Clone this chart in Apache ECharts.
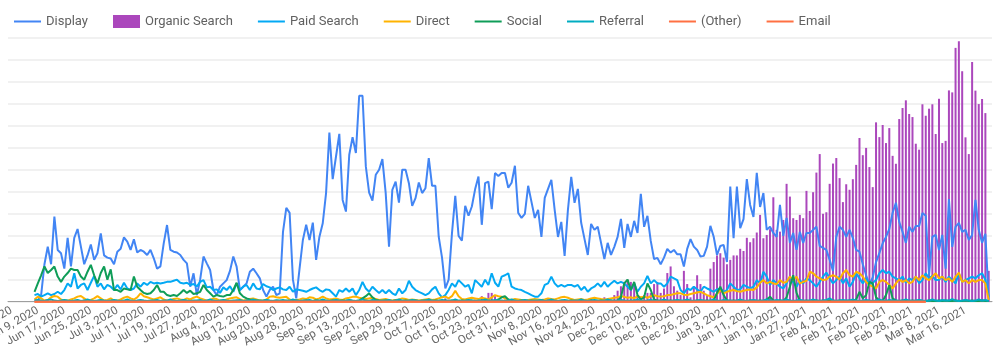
<!DOCTYPE html>
<html>
<head>
<meta charset="utf-8">
<script src="https://cdn.jsdelivr.net/npm/echarts@6/dist/echarts.min.js"></script>
<style>
html,body{margin:0;padding:0;background:#fff;}
#chart{width:1000px;height:352px;}
</style>
</head>
<body>
<div id="chart"></div>
<script>
// Daily categories: May 31, 2020 .. Mar 24, 2021 (298 days)
const startDate = Date.UTC(2020, 4, 31);
const dayCount = 298;
const monthNames = ['Jan','Feb','Mar','Apr','May','Jun','Jul','Aug','Sep','Oct','Nov','Dec'];
const categories = [];
for (let i = 0; i < dayCount; i++) {
  const d = new Date(startDate + i * 86400000);
  categories.push(monthNames[d.getUTCMonth()] + ' ' + d.getUTCDate() + ', ' + d.getUTCFullYear());
}
const labelEvery = 8;      // a tick label every 8 days
const labelOffset = 1;     // first labelled day: Jun 1, 2020
const lastLabel = 'Mar 16, 2021';

const seriesNames = ['Display','Organic Search','Paid Search','Direct','Social','Referral','(Other)','Email'];

const display = [
null,null,null,null,null,null,null,null,0.5,0.5,
3,17,25,17,38.6,23.5,22,15,29,16,
29,33,25,17,21,26,19,22,31,21,
20,19.6,17,22.7,24,29.2,27.3,23.5,28.3,22.3,
23.5,22.7,21.2,23.5,19.7,15,16,26.5,34.8,23.5,
22.7,22.3,21.2,19,17.4,6.8,12.9,3,10,20.5,
17.4,14.4,5.3,3,6.8,8.3,9.8,14,20.5,15.9,
5.3,6.8,8.3,13.6,15,12.9,10.6,5.3,2.3,5.3,
6.8,3,3.8,31.7,42.6,40.3,10,1.5,15,28,
34.9,28,35.9,19,29.5,35.6,49.3,76.8,55.6,65.9,
76.2,46.2,40.9,66.7,74.7,67.5,93.5,93.5,61.4,49.5,
45.9,57.6,59.9,64.7,49.3,25,50.8,54.5,45,59.9,
59.9,53.8,43.5,47,54.1,49.3,51.5,65.2,52.6,52.6,
29.5,20,6,10,31,48,29.9,27.7,43.5,39,
43.2,51.1,56.8,34.9,53.8,54.5,42,58.4,57.1,58.4,
58.4,51.7,54,61.7,40.3,38,39.9,52.6,45.3,38,
41.7,29.4,47.1,51.2,55.3,41.7,29.4,36.2,20.8,41.7,
56.7,44.9,51.2,35.8,28.5,21.2,35.3,32.6,34,26.7,
19.4,26.7,21.2,24.9,29.4,37.6,24.4,35.3,29.4,36.7,
31.2,49,34,39,27.6,19.4,19.9,17,20,24,
22.3,23.5,21.5,21.5,16,24,28.4,25,23.5,20.5,
20.8,25,34.4,29.5,21.2,25.3,25.8,18,52.3,28.8,
52.3,33.4,37.5,55.6,43.9,38.5,58.5,43,49.3,32.6,
34,31.2,29.4,43.9,29.9,38,26.7,31.2,23.5,31.7,
26.7,31.2,31.2,32.6,34,25.3,24.4,23.5,19,14,
29.4,34,32.6,29.4,32.6,29,23.5,22.7,17,12,
8,11,18,22,26.5,29.4,33,40.3,44.9,36.2,
31.7,26.7,34,31.7,34.4,34.4,40.3,39,12,29.4,
30.3,23.5,30.3,15,46.6,24.9,34,35.8,31.7,32.6,
28,30.3,46.2,32.6,26.7,30.8,1,null
];

const organicSearch = [
null,null,null,null,null,null,null,null,0,0,
0,0,0,0,0,0,0,0,0,0,
0,0,0,1,0,0,0,0,0,0,
0,0,0,0.8,0,0,1,0.8,0,0,
0,0,0,0,0,0,0,0,0,0,
0,0,1,0,0,0,0,0,0,0,
0,0,0,0,0,0,0,0,0,1,
0,0,0,0,0,0,0,0,0,0,
0.8,0,0,0,0,1,0,0,0,0,
0,0,0,0,0,0,0,0,0,0.8,
0,0,0,0,0,0,0,0,0,0,
1,0,0,0,0,0,0,0.8,0,0,
0,0,0,0,0,1,0,0,0,0,
0,0,1.5,1,0,0,0,0,0,0,
0,1,0,2.5,0,4,4,2.5,0,0,
1,0,0,0,0,0,1,0,0,0,
0,0,0,1.5,0,0,0,0,0,0,
1,0,0,0,0,0,1.5,0,0,0,
2,0,0,3,5,7,9,10,9,8,
3,2,3,4,4,8,9,4,6,13,
16,7,5,3,14,8,2,7,12,8,
5,3,15,18,21,22,20,17,19,21,
21,24,23,29,27,28.8,31.4,39.4,28.8,30.3,
32.9,47.4,32.6,31.8,37.1,53.5,47.7,37.9,37.1,39.4,
37.9,50.3,41.2,49.7,58.6,67,39.9,40.6,53.5,62.7,
65.2,56.1,45.2,53.3,50.8,55.6,62.1,74.3,66.5,69.8,
61.1,52,81.4,74.7,80.2,72,78.8,66.2,62.6,82.9,
87.9,91.4,85.2,83.8,71.7,69,89.6,84.4,87.6,89.6,
76.1,92.1,72,73,95.9,95,115.2,118.2,104.6,74.6,
67,108.8,95.8,89.7,92,85.6,14,null
];

const paidSearch = [
null,null,null,null,null,null,null,null,3,3.5,
2.3,3,3.8,3,3.5,4.5,3.5,5.3,8.3,6.8,
12.9,6,7.6,8.3,5.3,8.6,11.7,6.8,8.3,5.6,
7.6,6.8,5.3,7.6,5.6,8.6,6,5.3,6,8.3,
6.8,8.6,7.6,9,8.3,8.6,8.3,8.6,9,9,
9.5,10,8.6,8.3,8.6,7.6,8,7,9,9.8,
6.5,6.8,5.3,5.6,4,6.5,5.3,7,4.5,8.3,
5.3,6.8,7.6,5.3,8.3,6,5.6,8,7,6.5,
5.3,6,6.5,5.6,5.3,6.8,4.5,5.6,5.3,5,
4.5,5.3,6,6.5,5.3,4.5,5.6,5.3,3.8,2.3,
5.3,4.5,6,4.5,6,3,5.3,9,6,4.5,
6.8,5.3,4,5.3,3.8,5.3,3.8,3,6,3.8,
5.3,9.5,6.8,5.3,4.5,3.8,3,3.8,5.6,6.8,
3.8,2,3,5.3,8.3,6.8,9.8,8.3,6.8,7.6,
3.8,9.8,8.3,6.8,10,7.6,12.9,8.6,6.8,11.4,
12,12.9,6.8,6,5.6,5.3,4.5,3.8,3,2.3,
2.3,3.8,7.6,8.3,11.4,8.3,6.8,7.6,6.8,7.6,
7.6,6.8,7.6,5.3,6.8,4.5,6,6.8,8.3,6.8,
9,6.8,8.3,9.5,8.3,9,8.3,6.8,5.3,8.3,
4.5,6.8,8.3,11.7,8.3,9.8,8.3,8.3,6.8,8.3,
11.4,10.6,9.8,5.3,3.8,6,5.3,6.8,5.6,4.5,
6.8,6,5.3,4.5,5.6,6,4.5,5.3,8.3,6.8,
5.3,5.6,7.6,6.8,6,6.8,9.8,8.3,13.6,11.4,
7.6,9.8,8.3,6.8,6,8.3,11.4,9,6.8,9.8,
8.3,10.6,9.8,8.3,6.8,9,11.4,13.2,10.6,8.3,
9.8,11.4,8.3,10.6,6.8,9,12.9,10.6,8.3,10.6,
7.6,8.6,9.8,12.9,14.4,12.9,13.6,11.4,10.6,9.8,
11.4,8.6,10.6,9.8,11.4,8.3,9.8,12.9,10.6,11.7,
9.8,10,11.4,9,11.4,9.8,8.3,12.9,9,9.8,
10.6,11.4,10.6,12,12.9,10,2.3,null
];

const direct = [
null,null,null,null,null,null,null,null,1,2.3,
1.5,0.5,0.8,2,2.6,2.3,1,0.5,0.5,1,
1.5,2.3,2.6,1.5,0.5,0.8,1.5,2.5,1.5,0.5,
0.8,1.5,0.5,0.5,1,1.8,2.3,1.5,1,2,
3.8,2.5,2,1.5,1,1.5,2,1,0.5,0.8,
1.2,1.5,1,0.8,1.5,1,1.8,2.3,1.5,1,
0.5,0.8,1.5,1.2,0.5,0.5,1,1.5,1.8,2,
1.2,0.5,0.8,1.2,1.5,1,0.5,0.5,1,2.3,
2.5,2,1.8,2,2.2,1,0.5,0.8,1,1.5,
1.2,2,1.8,1,1.5,2.3,1.5,1,1.2,1.5,
1,0.8,1.5,1.8,2.2,2.3,1.8,1.5,1.2,1.5,
1.8,1.2,0.8,1,1.2,0.8,0.5,0.8,1,1.5,
1.2,0.8,1,0.8,0.5,0.8,1,1.2,0.8,1,
1.5,2,2.3,1.5,2.5,5,2.5,1.2,1,1.5,
1.8,1.5,1.2,1.8,1.5,1,2,3,2.5,2.3,
1.5,1,0.8,1.2,1,0.8,0.5,0.8,1,1.2,
1,0.8,1,1.5,1.2,1,1.5,2,2.2,1.8,
1.2,0.8,1,1.2,0.8,1,1.5,1.8,1.5,1.2,
1,1.2,1.5,1.8,2,2.5,2.2,1.8,2,1.5,
2.5,2,2.3,1.8,2.5,3,2.5,2.3,2.5,3,
3,3.5,3.8,3.8,3.2,3,3.5,3.8,4.2,4.5,
3.8,3,2.5,2,3.5,5.3,3.8,4.5,5,5.3,
4.8,4.5,5,5.3,5.5,5.3,6.5,8.6,9.8,8.3,
9,8.3,8,9.8,8.6,9,11.4,9.8,11.4,8.3,
9,9.5,13.6,12.9,11.4,10.6,9.8,10.1,11.4,12,
11.4,10.1,12.9,14.4,12,11.4,13.6,12.9,11.4,9,
7.6,6.8,6,9,9.8,9,7.6,6,8.3,10.1,
9,9.8,8.3,9,11.4,9.8,12,10.6,9.8,11.4,
12.9,10.6,11.4,9.8,10.6,9,11.4,13.2,9,9.8,
8.3,9.8,9,9.8,9.8,8.3,0.8,null
];

const social = [
null,null,null,null,null,null,null,null,4.5,8.3,
12,16,13,14.4,16,11.4,9,11.4,13,15,
14.4,14.4,11.4,10,13.6,16.7,12,8.3,13,16,
10,14.7,5.3,5.3,4.5,6,5.6,5.3,11.4,6.8,
5.3,4,3.5,3.8,5.3,7.6,4.5,4.5,3,2.6,
3,2.6,3.8,5.3,4,5,3.5,3.8,4.5,7.6,
5.3,3.8,2.3,3,2.6,2.3,3,3,5.3,8.6,
3.8,2.3,1.5,1,0.8,0.5,0.5,0.3,0.5,0.3,
0.3,0.5,0.3,0.3,0.5,0.3,0.3,0.5,0.3,0.3,
0.5,0.3,0.3,0.5,0.3,0.5,0.3,0.3,0.5,0.3,
0.3,0.5,0.3,0.5,0.3,0.3,0.5,1.5,2.5,3.8,
2,0.8,0.5,0.3,0.5,0.3,0.3,0.5,0.3,0.3,
0.5,0.3,0.3,0.5,0.3,0.3,0.5,0.3,0.3,0.5,
0.3,0.3,0.5,0.3,0.5,0.3,0.3,0.5,0.3,0.3,
0.5,0.3,0.3,0.5,0.3,0.3,0.5,0.3,1,2,
2.5,1,0.5,0.3,0.3,0.5,0.3,0.3,0.5,0.3,
0.3,0.5,0.3,0.3,0.5,0.3,0.3,0.5,0.3,0.3,
0.5,0.3,0.3,0.5,0.3,0.3,0.5,0.3,0.3,0.5,
0.3,0.3,0.5,0.3,0.5,2,8.3,10,5.3,9,
3,1,2,8.3,5.3,1,0.5,0.3,0.5,0.3,
0.5,0.3,0.5,0.3,0.3,0.5,0.3,0.3,0.5,0.3,
0.3,0.5,0.3,0.5,4,6.8,3,0.5,0.3,0.5,
0.3,0.5,0.3,0.3,0.5,0.3,0.3,0.5,0.3,1,
2.3,0.5,0.3,0.5,0.3,2,6.8,12,4,0.5,
0.3,0.5,0.3,0.3,0.5,0.3,0.5,0.3,0.3,0.5,
0.3,0.5,0.3,0.3,0.5,0.3,1,4.5,1.5,3,
9,8.3,2,0.5,0.3,3,7.6,1.5,0.5,0.3,
0.5,0.3,0.3,0.5,0.3,0.5,0.3,0.3,0.5,0.3,
0.3,0.5,0.3,0.5,0.3,0.3,0.5,0.3,0.3,0.5,
0.3,0.5,0.3,0.3,0.5,0.3,0.3,null
];

const referral = [
null,null,null,null,null,null,null,null,0.5,0.8,
0.5,0.3,0.8,1,0.5,0.3,0.5,0.8,0.5,0.3,
0.5,0.8,0.3,0.5,1,0.5,0.3,0.5,0.8,0.5,
0.3,0.5,0.8,0.5,0.3,0.5,1,0.5,0.3,0.5,
0.8,0.5,0.3,0.5,0.5,0.8,0.3,0.5,0.5,1,
0.5,0.3,0.5,0.8,0.5,0.3,0.5,0.5,0.8,0.3,
0.5,1,0.5,0.3,0.5,0.8,0.5,0.3,0.5,0.5,
0.8,0.3,0.5,0.5,1,0.5,0.3,0.5,0.8,0.5,
0.3,0.5,0.5,0.8,0.3,0.5,1,0.5,0.3,0.5,
0.5,0.8,0.3,0.5,0.5,1,0.5,0.3,0.5,0.8,
0.5,0.3,0.5,0.8,0.5,0.3,0.5,1,0.5,0.3,
0.8,0.5,0.3,0.5,0.5,0.8,0.3,0.5,1,0.5,
0.3,0.5,0.8,0.5,0.3,0.5,0.5,1,0.5,0.3,
0.5,0.8,0.5,0.3,0.5,1,0.5,0.3,0.5,0.8,
0.5,0.3,0.5,0.5,1,0.5,0.3,0.8,0.5,0.5,
0.3,0.5,1,0.5,0.3,0.5,0.8,0.5,0.3,0.5,
0.5,0.8,0.3,0.5,1,0.5,0.3,0.5,0.8,0.5,
0.3,0.5,0.5,1,0.5,0.3,0.5,0.8,0.5,0.3,
0.5,1,0.5,0.3,0.5,0.8,0.5,0.3,0.5,0.5,
1,0.5,0.3,0.5,0.8,0.5,0.3,0.5,1,0.5,
0.3,0.5,0.8,0.5,0.5,1,0.5,0.3,0.5,0.8,
0.5,0.3,0.5,1,0.5,0.3,0.8,0.5,0.5,0.3,
0.5,1,0.5,0.3,0.5,0.8,0.5,0.3,0.5,1,
0.5,0.3,0.8,0.5,0.5,1,0.5,0.3,0.5,0.8,
0.5,0.3,0.5,1,0.5,0.3,0.5,0.8,1.5,0.5,
0.3,0.5,0.8,0.5,0.5,1,0.5,0.3,0.5,0.8,
0.5,0.3,0.5,1,0.5,0.3,0.8,0.5,0.5,0.3,
0.5,1,0.5,0.3,0.5,0.8,0.5,0.3,0.5,1,
0.5,0.3,0.8,0.5,0.5,1.2,0.5,0.3,0.5,0.8,
0.5,0.3,0.5,1,0.5,0.8,0.3,null
];

const other = [
null,null,null,null,null,null,null,null,0,0,
0,0,0,0,0,0,0,0,0,0, 0,0,0,0,0,0,0,0,0,0, 0,0,0,0,0,0,0,0,0,0,
0,0,0,0,0,0,0,0,0,0, 0,0,0,0,0,0,0,0,0,0, 0,0,0,0,0,0,0,0,0,0,
0,0,0,0,0,0,0,0,0,0, 0,0,0,0,0,0,0,0,0,0, 0,0,0,0,0,0,0,0,0,0,
0,0,0,0,0,0,0,0,0,0, 0,0,0,0,0,0,0,0,0,0, 0,0,0,0,0,0,0,0,0,0,
0,0,0,0,0,0,0,0,0,0, 0,0,0,0,0,0,0,0,0,0, 0,0,0,0,0,0,0,0,0,0,
0,0,0,0,0,0,0,0,0,0, 0,0,0,0,0,0,0,0,0,0, 0,0,0,0,0,0,0,0,0,0,
0,0,0,0,0,0,0,0,0,0, 0,0,0,0,0,0,0,0,0,0, 0,0,0,0,0,0,0,0,0,0,
0,0,0,0,0,0,0,0,0,0, 0,0,0,0,0,0,0,0,0,0, 0,0,0,0,0,0,0,0,0,0,
0,0,0,0,0,0,0,0,0,0, 0,0,0,0,0,0,0,0,0,0,
0,0,0,0,0,0,0,0
];

const email = [
null,null,null,null,null,null,null,null,0,0,
0,0,0,0,0,0,0,0,0,0, 0,0,0,0,0,0,0,0,0,0, 0,0,0,0,0,0,0,0,0,0,
0,0,0,0,0,0,0,0,0,0, 0,0,0,0,0,0,0,0,0,0, 0,0,0,0,0,0,0,0,0,0,
0,0,0,0,0,0,0,0,0,0, 0,0,0,0,0,0,0,0,0,0, 0,0,0,0,0,0,0,0,0,0,
0,0,0,0,0,0,0,0,0,0, 0,0,0,0,0,0,0,0,0,0, 0,0,0,0,0,0,0,0,0,0,
0,0,0,0,0,0,0,0,0,0, 0,0,0,0,0,0,0,0,0,0, 0,0,0,0,0,0,0,0,0,0,
0,0,0,0,0,0,0,0,0,0, 0,0,0,0,0,0,0,0,0,0, 0,0,0,0,0,0,0,0,0,0,
0,0,0,0,0,0,0,0,0,0, 0,0,0,0,0,0,0,0,0,0, 0,0,0,0,0,0,0,0,0,0,
0,0,0,0,0,0,0,0,0,0, 0,0,0,0,0,0,0,0,0,0, 0,0,0,0,0,0,0,0,0,0,
0,0,0,0,0,0,0,0,0,0, 0,0,0,0,0,0,0,0,0,0,
0,0,0,0,0,0,0,0
];

const colors = {
  'Display': '#4285f4',
  'Organic Search': '#ab47bc',
  'Paid Search': '#03a9f4',
  'Direct': '#ffb300',
  'Social': '#0f9d58',
  'Referral': '#00acc1',
  '(Other)': '#ff7043',
  'Email': '#ff7043'
};

function lineSeries(name, data) {
  return {
    name: name, type: 'line', data: data,
    symbol: 'none', showSymbol: false, clip: false, z: 3,
    lineStyle: { width: 2, color: colors[name] },
    itemStyle: { color: colors[name] },
    connectNulls: false, animation: false
  };
}

const lineIcon = 'path://M0,0H27V2H0Z';
const lastLabelIndex = categories.indexOf(lastLabel);

const chart = echarts.init(document.getElementById('chart'), null, { renderer: 'canvas' });
chart.setOption({
  animation: false,
  textStyle: { fontFamily: 'Roboto, sans-serif' },
  legend: {
    left: 9, top: 10,
    itemWidth: 27, itemHeight: 13, itemGap: 25,
    textStyle: { fontSize: 13, color: '#616161', fontFamily: 'Roboto' },
    data: seriesNames.map(function (n) {
      return { name: n, icon: n === 'Organic Search' ? 'rect' : lineIcon };
    })
  },
  grid: { left: 8, right: 8, top: 37.3, bottom: 50.3, containLabel: false, outerBoundsMode: 'none' },
  xAxis: {
    type: 'category',
    data: categories,
    boundaryGap: false,
    axisLine: { show: true, lineStyle: { color: '#9e9e9e', width: 1 } },
    axisTick: { show: false },
    splitLine: { show: false },
    axisLabel: {
      interval: function (index) {
        return index <= lastLabelIndex && (index - labelOffset) % labelEvery === 0;
      },
      rotate: 30,
      margin: 8,
      fontSize: 11.5,
      color: '#666666',
      fontFamily: 'Roboto'
    }
  },
  yAxis: {
    type: 'value', min: 0, max: 120, interval: 10,
    axisLabel: { show: false },
    axisLine: { show: false },
    axisTick: { show: false },
    splitLine: { show: true, lineStyle: { color: '#ececec', width: 1.5 } }
  },
  series: [
    lineSeries('Display', display),
    {
      name: 'Organic Search', type: 'bar', data: organicSearch,
      barWidth: 2, z: 2,
      itemStyle: { color: colors['Organic Search'] }
    },
    lineSeries('Paid Search', paidSearch),
    lineSeries('Direct', direct),
    lineSeries('Social', social),
    lineSeries('Referral', referral),
    lineSeries('(Other)', other),
    lineSeries('Email', email)
  ]
});
</script>
</body>
</html>
